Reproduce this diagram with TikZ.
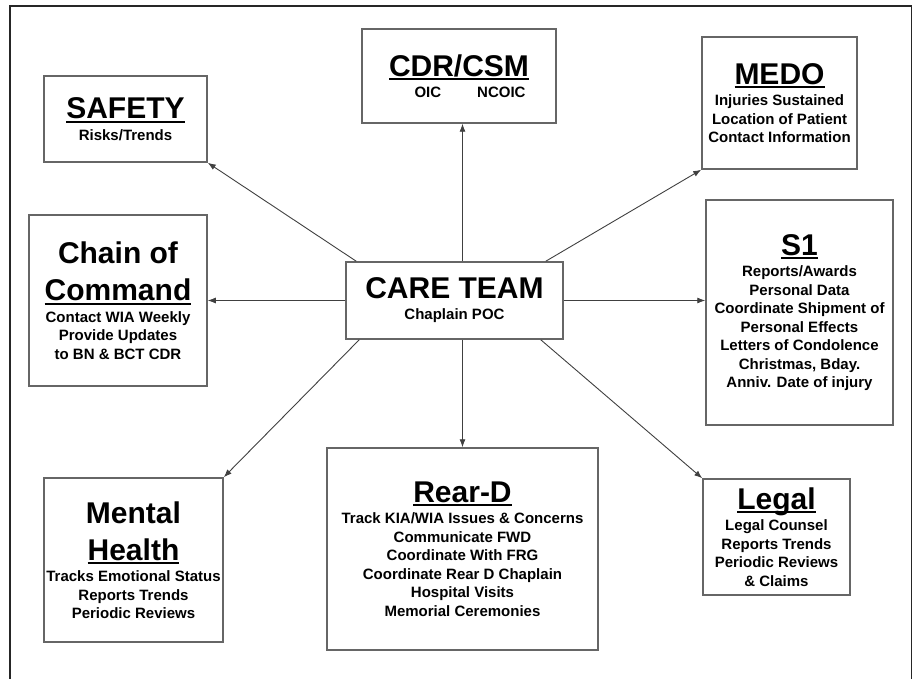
\documentclass[tikz,border=0pt]{standalone}
\usepackage{fontspec}
\setmainfont{Liberation Sans}
\usetikzlibrary{positioning}
\usetikzlibrary{calc, arrows.meta}

\newcommand\ttlfont{\fontsize{30}{30}\selectfont}
\newcommand\ttl[1]{{\ttlfont #1}}
\newcommand\hdr[1]{{\ttlfont\setbox0\hbox{#1}\rlap{\rule[-4pt]{\wd0}{1.8pt}}\box0}}

\tikzset{
  box/.style={draw=black!60, line width=1.5pt, inner sep=0pt, align=center,
    font=\fontsize{15}{18.5}\selectfont\bfseries},
  link/.style={draw=black!75, line width=0.9pt, -{Latex[length=8pt,width=6pt]}}
}

\begin{document}
\begin{tikzpicture}[x=1pt,y=-1pt]
      \useasboundingbox (0,0) rectangle (914,679);
      \draw[black!85, line width=1.3pt] (10,679) -- (10,6) -- (911.5,6) -- (911.5,679);

      \node[box, minimum width=217pt, minimum height=77pt] (care) at (454.5,300.5)
        {\ttl{CARE TEAM}\\[2.5pt]Chaplain POC};

      \node[box, minimum width=163pt, minimum height=86pt] (safety) at (125.5,119)
        {\hdr{SAFETY}\\[3pt]Risks/Trends};
      \node[box, minimum width=194pt, minimum height=94pt] (cdr) at (459,76)
        {\hdr{CDR/CSM}\\[3pt]\hspace*{22pt}OIC\hspace{36pt}NCOIC};
      \node[box, minimum width=155pt, minimum height=132pt] (medo) at (779.5,103)
        {\hdr{MEDO}\\[3pt]Injuries Sustained\\Location of Patient\\Contact Information};
      \node[box, minimum width=178pt, minimum height=171pt] (chain) at (118,300.5)
        {\ttl{Chain of}\\[14pt]\hdr{Command}\\[3pt]Contact WIA Weekly\\Provide Updates\\to BN \& BCT CDR};
      \node[box, minimum width=187pt, minimum height=225pt] (s1) at (799.5,312.5)
        {\hdr{S1}\\[3pt]Reports/Awards\\Personal Data\\Coordinate Shipment of\\Personal Effects\\Letters of Condolence\\Christmas, Bday.\\Anniv. Date of injury};
      \node[box, minimum width=179pt, minimum height=164pt] (mental) at (133.5,560)
        {\ttl{Mental}\\[14pt]\hdr{Health}\\[3pt]Tracks Emotional Status\\Reports Trends\\Periodic Reviews};
      \node[box, minimum width=271pt, minimum height=202pt] (rear) at (462.5,549)
        {\hdr{Rear-D}\\[3pt]Track KIA/WIA Issues \& Concerns\\Communicate FWD\\Coordinate With FRG\\Coordinate Rear D Chaplain\\Hospital Visits\\Memorial Ceremonies};
      \node[box, minimum width=147pt, minimum height=116pt] (legal) at (776.5,537)
        {\hdr{Legal}\\[3pt]Legal Counsel\\Reports Trends\\Periodic Reviews\\\& Claims};

      % arrows out of the care team
      \draw[link] ([xshift=11pt]care.north west) -- (safety.south east);
      \draw[link] (care.north -| rear.north) -- (cdr.south -| rear.north);
      \draw[link] ([xshift=-18pt]care.north east) -- (medo.south west);
      \draw[link] (care.west) -- (care.west -| chain.east);
      \draw[link] (care.east) -- (care.east -| s1.west);
      \draw[link] ([xshift=14pt]care.south west) -- (mental.north east);
      \draw[link] (care.south -| rear.north) -- (rear.north);
      \draw[link] ([xshift=-23pt]care.south east) -- (legal.north west);
    \end{tikzpicture}
\end{document}
